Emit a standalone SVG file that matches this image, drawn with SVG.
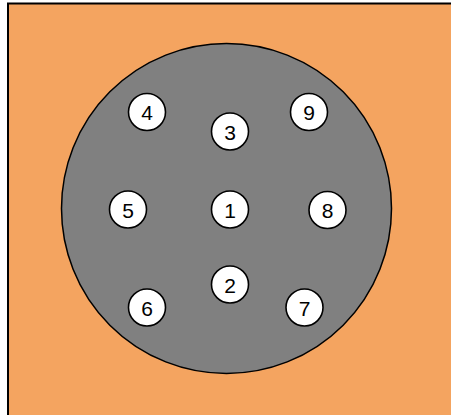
<svg xmlns="http://www.w3.org/2000/svg" width="451" height="415" viewBox="0 0 451 415">
<style>
.n circle{fill:#fff;stroke:#000;stroke-width:1.6}
.n text{font-family:"Liberation Sans",Arial,sans-serif;font-size:21px;fill:#000;text-anchor:middle;dominant-baseline:central}
</style>
<rect width="451" height="415" fill="#fff"/>
<rect id="board" x="8" y="3.5" width="460" height="430" fill="#F4A460" stroke="#000" stroke-width="2"/>
<circle id="disk" cx="226.5" cy="208.5" r="165" fill="#808080" stroke="#000" stroke-width="1.5"/>
<g id="connectors"></g>
<g id="n1" class="n"><circle cx="230" cy="209.5" r="18.5"/><text x="230" y="210">1</text></g>
<g id="n2" class="n"><circle cx="230" cy="284.5" r="18.5"/><text x="230" y="285">2</text></g>
<g id="n3" class="n"><circle cx="230" cy="131.5" r="18.5"/><text x="230" y="132">3</text></g>
<g id="n4" class="n"><circle cx="147" cy="112" r="18.5"/><text x="147" y="112.5">4</text></g>
<g id="n5" class="n"><circle cx="128" cy="209.5" r="18.5"/><text x="128" y="210">5</text></g>
<g id="n6" class="n"><circle cx="147" cy="307.5" r="18.5"/><text x="147" y="308">6</text></g>
<g id="n7" class="n"><circle cx="304.5" cy="307.5" r="18.5"/><text x="304.5" y="308">7</text></g>
<g id="n8" class="n"><circle cx="327.5" cy="210" r="18.5"/><text x="327.5" y="210.5">8</text></g>
<g id="n9" class="n"><circle cx="309" cy="112" r="18.5"/><text x="309" y="112.5">9</text></g>
</svg>
